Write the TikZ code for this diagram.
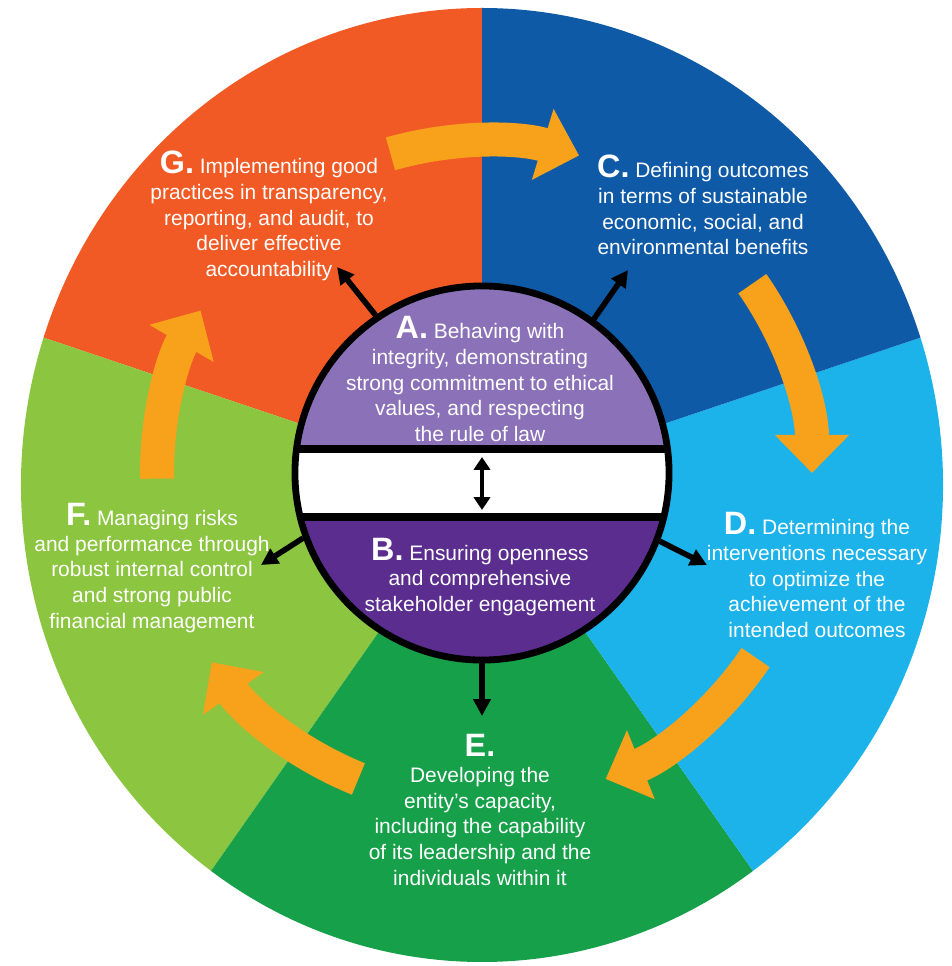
\documentclass[tikz,border=0pt]{standalone}
\usepackage{fontspec}
\setmainfont{Liberation Sans}
\usepackage{tikz}
\usepackage{xcolor}
\usetikzlibrary{arrows.meta}
\definecolor{govG}{HTML}{F15A24}
\definecolor{govC}{HTML}{0E5AA7}
\definecolor{govD}{HTML}{1BB3EA}
\definecolor{govE}{HTML}{17A04A}
\definecolor{govF}{HTML}{8CC540}
\definecolor{govAr}{HTML}{F8A21C}
\definecolor{govA}{HTML}{8B71B8}
\definecolor{govB}{HTML}{5B2D8F}
\newcommand{\lbl}[1]{{\fontsize{23}{18}\selectfont\bfseries #1.}}

\begin{document}
\begin{tikzpicture}[x=0.025cm,y=0.025cm]
\tikzstyle{every node}+=[inner sep=0pt]
\tikzstyle{txt}=[align=center, text=white, font=\fontsize{14.9}{18.4}\selectfont]
\tikzstyle{ptr}=[black, line width=0.14cm, -{Triangle[length=0.42cm,width=0.42cm]}]
\tikzstyle{cyc}=[govAr, line width=0.85cm, -{Triangle[length=0.95cm,width=1.8cm]}]
\fill[white] (-482,-481) rectangle (470,485);
\useasboundingbox (-482,-481) rectangle (470,485);
\fill[govG] (0,0) -- (90:461 and 477) arc[start angle=90, end angle=162, x radius=461, y radius=477] -- cycle;
\fill[govF] (0,0) -- (162:461 and 477) arc[start angle=162, end angle=234, x radius=461, y radius=477] -- cycle;
\fill[govE] (0,0) -- (234:461 and 477) arc[start angle=234, end angle=306, x radius=461, y radius=477] -- cycle;
\fill[govD] (0,0) -- (306:461 and 477) arc[start angle=306, end angle=378, x radius=461, y radius=477] -- cycle;
\fill[govC] (0,0) -- (18:461 and 477) arc[start angle=18, end angle=90, x radius=461, y radius=477] -- cycle;
\coordinate (ring) at (0,12);
\draw[cyc] ([shift={(106:332)}]ring) arc[start angle=106, end angle=73, radius=332];
\draw[cyc] ([shift={(35:330)}]ring) arc[start angle=35, end angle=0, radius=330];
\draw[cyc] ([shift={(-34:330)}]ring) arc[start angle=-34, end angle=-68, radius=330];
\draw[cyc] ([shift={(-112:330)}]ring) arc[start angle=-112, end angle=-145, radius=330];
\draw[cyc] ([shift={(181:325)}]ring) arc[start angle=181, end angle=150, radius=325];
\begin{scope}
\clip (0,12) circle[radius=187];
\fill[govA] (-200,36) rectangle (200,210);
\fill[white] (-200,36) rectangle (200,-32);
\fill[govB] (-200,-32) rectangle (200,-190);
\draw[black, line width=0.19cm] (-200,36) -- (200,36);
\draw[black, line width=0.19cm] (-200,-32) -- (200,-32);
\end{scope}
\node[circle, draw=black, line width=0.17cm, minimum size=9.35cm] (core) at (0,12) {};
\coordinate (bandtop) at (0,28);
\coordinate (bandbot) at (0,-25);
\draw[black, line width=0.12cm, {Triangle[length=0.32cm,width=0.4cm]}-{Triangle[length=0.32cm,width=0.4cm]}] (bandtop) -- (bandbot);
\node[txt] (tA) at (-2,106) {\lbl{A} Behaving with\\integrity, demonstrating\\strong commitment to ethical\\values, and respecting\\the rule of law};
\node[txt] (tB) at (-2,-92) {\lbl{B} Ensuring openness\\and comprehensive\\stakeholder engagement};
\node[txt] (tC) at (221,280) {\lbl{C} Defining outcomes\\in terms of sustainable\\economic, social, and\\environmental benefits};
\node[txt] (tD) at (335,-90) {\lbl{D} Determining the\\interventions necessary\\to optimize the\\achievement of the\\intended outcomes};
\node[txt] (tE) at (-2,-325) {\lbl{E}\\Developing the\\entity’s capacity,\\including the capability\\of its leadership and the\\individuals within it};
\node[txt] (tF) at (-330,-83) {\lbl{F} Managing risks\\and performance through\\robust internal control\\and strong public\\financial management};
\node[txt] (tG) at (-213,269) {\lbl{G} Implementing good\\practices in transparency,\\reporting, and audit, to\\deliver effective\\accountability};
\coordinate (gtip) at (-145,218);
\coordinate (ctip) at (146,215);
\coordinate (ftip) at (-221,-80);
\coordinate (dtip) at (225,-80);
\coordinate (etip) at (0,-231);
\draw[ptr] (core.124) -- (gtip);
\draw[ptr] (core.54) -- (ctip);
\draw[ptr] (core.200) -- (ftip);
\draw[ptr] (core.339) -- (dtip);
\draw[ptr] (core.270) -- (etip);
\end{tikzpicture}
\end{document}
